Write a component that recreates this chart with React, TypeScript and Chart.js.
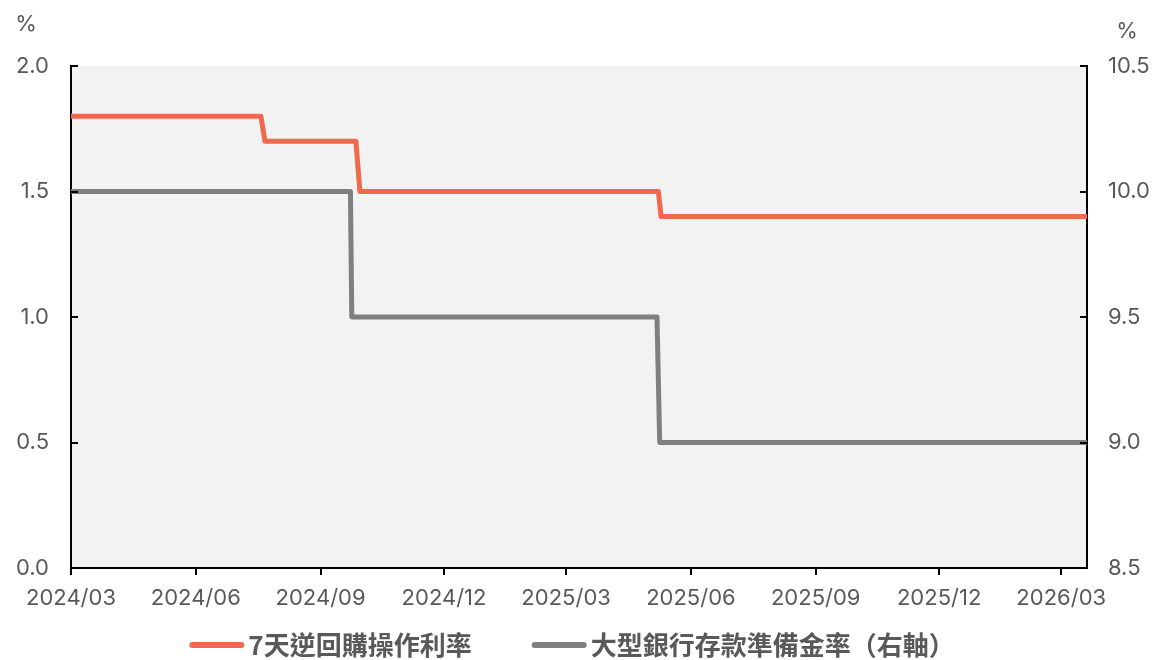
import { useEffect, useRef } from "react";
import { Chart, registerables } from "chart.js";

Chart.register(...registerables);

// Day offsets are counted from this date on a linear x scale.
const originDate = "2024-03-01";
const lastDate = "2026-03-20";

// 7-day reverse repo rate (left axis, %)
const repoDates = [
  "2024-03-01",
  "2024-07-19",
  "2024-07-22",
  "2024-09-27",
  "2024-09-30",
  "2025-05-08",
  "2025-05-10",
  "2026-03-20",
];
const repoRates = [1.8, 1.8, 1.7, 1.7, 1.5, 1.5, 1.4, 1.4];

// Reserve requirement ratio for large banks (right axis, %)
const rrrDates = [
  "2024-03-01",
  "2024-09-23",
  "2024-09-24",
  "2025-05-07",
  "2025-05-09",
  "2026-03-20",
];
const rrrRates = [10.0, 10.0, 9.5, 9.5, 9.0, 9.0];

const monthTicks = [
  "2024/03",
  "2024/06",
  "2024/09",
  "2024/12",
  "2025/03",
  "2025/06",
  "2025/09",
  "2025/12",
  "2026/03",
];

const seriesNames = ["7天逆回購操作利率", "大型銀行存款準備金率（右軸）"];
const seriesColors = ["#f0694d", "#7f7f7f"];
const unitLabel = "%";

const TEXT = "#595959";
const TICK_FONT = { family: "Inter, 'Noto Sans', sans-serif", size: 22 };

function dayOffset(s: string): number {
  const [y, m, d] = s.split("-").map(Number);
  const [oy, om, od] = originDate.split("-").map(Number);
  return (Date.UTC(y, m - 1, d) - Date.UTC(oy, om - 1, od)) / 86400000;
}

const monthTickValues = monthTicks.map((l) => dayOffset(l.replace("/", "-") + "-01"));

const decorPlugin = {
  id: "decor",
  beforeDraw(chart: any) {
    const { ctx, chartArea: a } = chart;
    ctx.save();
    ctx.fillStyle = "#f2f2f2";
    ctx.fillRect(a.left, a.top, a.right - a.left, a.bottom - a.top);
    ctx.restore();
  },
  afterDraw(chart: any) {
    const { ctx, chartArea: a } = chart;
    ctx.save();
    // inward tick marks on both value axes
    ctx.strokeStyle = "#000";
    ctx.lineWidth = 2;
    const yl = chart.scales.y;
    yl.ticks.forEach((t: any) => {
      const py = Math.round(yl.getPixelForValue(t.value));
      ctx.beginPath();
      ctx.moveTo(a.left, py);
      ctx.lineTo(a.left + 7, py);
      ctx.stroke();
    });
    const yr = chart.scales.y1;
    yr.ticks.forEach((t: any) => {
      const py = Math.round(yr.getPixelForValue(t.value));
      ctx.beginPath();
      ctx.moveTo(a.right, py);
      ctx.lineTo(a.right - 7, py);
      ctx.stroke();
    });

    // unit labels above the axes
    ctx.fillStyle = TEXT;
    ctx.font = `${TICK_FONT.size}px ${TICK_FONT.family}`;
    ctx.textAlign = "center";
    ctx.textBaseline = "middle";
    ctx.fillText(unitLabel, 26, 24);
    ctx.fillText(unitLabel, 1127, 31);

    // legend
    ctx.font = "bold 26px 'Noto Sans CJK TC', sans-serif";
    ctx.textAlign = "left";
    const ds = chart.data.datasets;
    const lineLen = 55;
    const textGap = 4;
    const itemGap = 60;
    const widths = ds.map((d: any) => ctx.measureText(d.label).width);
    const total =
      widths.reduce((s: number, w: number) => s + w, 0) +
      ds.length * (lineLen + textGap) +
      (ds.length - 1) * itemGap;
    let x = 572 - total / 2;
    const ly = 645;
    ds.forEach((d: any, i: number) => {
      ctx.strokeStyle = d.borderColor;
      ctx.lineWidth = 6;
      ctx.lineCap = "round";
      ctx.beginPath();
      ctx.moveTo(x + 3, ly);
      ctx.lineTo(x + lineLen - 3, ly);
      ctx.stroke();
      x += lineLen + textGap;
      ctx.fillStyle = TEXT;
      ctx.fillText(d.label, x, ly);
      x += widths[i] + itemGap;
    });
    ctx.restore();
  },
};

export default function App() {
  const canvasRef = useRef<HTMLCanvasElement | null>(null);

  useEffect(() => {
    document.body.style.margin = "0";
    const canvas = canvasRef.current;
    if (!canvas) return;

    const chart = new Chart(canvas, {
      type: "line",
      data: {
        datasets: [
          {
            label: seriesNames[0],
            data: repoDates.map((d, i) => ({ x: dayOffset(d), y: repoRates[i] })),
            borderColor: seriesColors[0],
            backgroundColor: seriesColors[0],
            borderWidth: 5,
            borderJoinStyle: "round",
            pointRadius: 0,
            tension: 0,
            yAxisID: "y",
          },
          {
            label: seriesNames[1],
            data: rrrDates.map((d, i) => ({ x: dayOffset(d), y: rrrRates[i] })),
            borderColor: seriesColors[1],
            backgroundColor: seriesColors[1],
            borderWidth: 5,
            borderJoinStyle: "round",
            pointRadius: 0,
            tension: 0,
            yAxisID: "y1",
          },
        ],
      },
      options: {
        animation: false,
        responsive: true,
        maintainAspectRatio: false,
        layout: { padding: { top: 66, left: 0, right: 0, bottom: 0 } },
        plugins: {
          legend: { display: false },
          tooltip: { enabled: false },
        },
        scales: {
          x: {
            type: "linear",
            min: 0,
            max: dayOffset(lastDate),
            afterBuildTicks: (scale: any) => {
              scale.ticks = monthTickValues.map((v) => ({ value: v }));
            },
            afterFit: (scale: any) => {
              scale.height = 92;
            },
            ticks: {
              autoSkip: false,
              maxRotation: 0,
              minRotation: 0,
              padding: 10,
              color: TEXT,
              font: TICK_FONT,
              callback: (_v: any, i: number) => monthTicks[i],
            },
            grid: {
              display: true,
              drawOnChartArea: false,
              drawTicks: true,
              tickLength: 7,
              color: "#000",
              lineWidth: 2,
            },
            border: { display: true, color: "#000", width: 2 },
          },
          y: {
            type: "linear",
            position: "left",
            min: 0,
            max: 2,
            afterFit: (scale: any) => {
              scale.width = 71;
            },
            ticks: {
              stepSize: 0.5,
              padding: 22,
              color: TEXT,
              font: TICK_FONT,
              callback: (v: any) => Number(v).toFixed(1),
            },
            grid: { display: false, drawTicks: false },
            border: { display: true, color: "#000", width: 2 },
          },
          y1: {
            type: "linear",
            position: "right",
            min: 8.5,
            max: 10.5,
            afterFit: (scale: any) => {
              scale.width = 65;
            },
            ticks: {
              stepSize: 0.5,
              padding: 21,
              color: TEXT,
              font: TICK_FONT,
              callback: (v: any) => Number(v).toFixed(1),
            },
            grid: { display: false, drawTicks: false },
            border: { display: true, color: "#000", width: 2 },
          },
        },
      },
      plugins: [decorPlugin],
    });

    return () => chart.destroy();
  }, []);

  return (
    <div style={{ position: "relative", width: 1152, height: 660 }}>
      <canvas ref={canvasRef} />
    </div>
  );
}
